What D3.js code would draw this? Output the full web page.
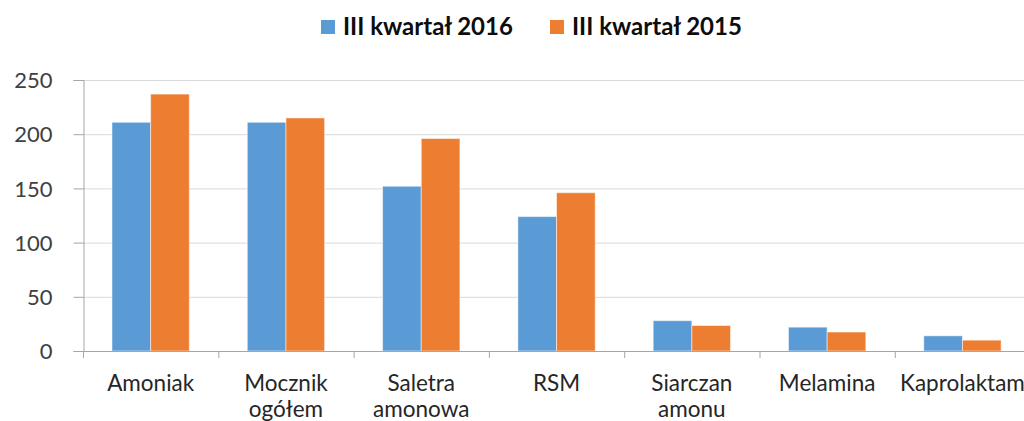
<!DOCTYPE html>
<html><head><meta charset="utf-8">
<script src="https://cdn.jsdelivr.net/npm/d3@7"></script>
<style>body{margin:0;background:#fff}svg{display:block}text{font-family:Lato,"Open Sans",sans-serif}</style>
</head><body><svg id="c" width="1024" height="421"></svg>
<script>
const categories = [["Amoniak"],["Mocznik","ogółem"],["Saletra","amonowa"],["RSM"],["Siarczan","amonu"],["Melamina"],["Kaprolaktam"]];
const seriesNames = ["III kwartał 2016","III kwartał 2015"];
const values2016 = [211,211,152,124,28,22,14];
const values2015 = [237,215,196,146,23.5,17.5,10];
const yTicks = [0,50,100,150,200,250];
const colors = ["#5B9BD5","#ED7D31"];

const svg = d3.select("#c");
const x0 = 83, x1 = 83 + 135.3*7, yTop = 80, yBot = 351;
const x = d3.scaleBand().domain(categories.map((d,i)=>i)).range([x0,x1]).paddingInner(0).paddingOuter(0);
const y = d3.scaleLinear().domain([0,250]).range([yBot,yTop]);
const gap = 1.5;
const bw = x.bandwidth()/(2+gap);

// gridlines
svg.append("g").selectAll("line").data(yTicks.filter(t=>t>0)).join("line")
  .attr("x1",x0).attr("x2",1024).attr("y1",d=>y(d)+0.5).attr("y2",d=>y(d)+0.5)
  .attr("stroke","#D9D9D9").attr("stroke-width",1);

// y axis
const ya = svg.append("g").attr("transform",`translate(${x0+0.5},0)`)
  .call(d3.axisLeft(y).tickValues(yTicks).tickSize(10).tickPadding(21));
ya.select(".domain").attr("stroke","#A6A6A6");
ya.selectAll(".tick line").attr("stroke","#A6A6A6");
ya.selectAll("text").attr("font-size","22px").attr("fill","#404040").attr("dy","0.35em");

// bars
const series = [values2016, values2015];
series.forEach((vals,si)=>{
  svg.append("g").selectAll("rect").data(vals).join("rect")
    .attr("x",(d,i)=>x(i)+bw*gap/2+si*bw)
    .attr("y",d=>y(d))
    .attr("width",bw)
    .attr("height",d=>yBot-y(d))
    .attr("fill",colors[si])
    .attr("stroke","#fff").attr("stroke-opacity",0.5).attr("stroke-width",1);
});

// x axis
const xa = svg.append("g");
xa.append("line").attr("x1",x0).attr("x2",1024).attr("y1",yBot+0.5).attr("y2",yBot+0.5).attr("stroke","#A6A6A6");
xa.selectAll("line.t").data(d3.range(categories.length+1)).join("line").attr("class","t")
  .attr("x1",i=>x0+i*x.bandwidth()+0.5).attr("x2",i=>x0+i*x.bandwidth()+0.5)
  .attr("y1",yBot).attr("y2",yBot+7).attr("stroke","#A6A6A6");
const lbl = xa.selectAll("text").data(categories).join("text")
  .attr("text-anchor","middle").attr("font-size","22.5px").attr("fill","#262626")
  .attr("transform",(d,i)=>`translate(${x(i)+x.bandwidth()/2},391)`);
lbl.selectAll("tspan").data(d=>d).join("tspan").attr("x",0).attr("dy",(d,j)=>j?26:0).text(d=>d);

// legend
const leg = svg.append("g");
const lx = [321, 550];
seriesNames.forEach((n,i)=>{
  leg.append("rect").attr("x",lx[i]).attr("y",20).attr("width",14).attr("height",14).attr("fill",colors[i]);
  leg.append("text").attr("x",lx[i]+22).attr("y",35).attr("font-size","24px").attr("font-weight","bold").attr("fill","#0D0D0D").text(n);
});
</script></body></html>
